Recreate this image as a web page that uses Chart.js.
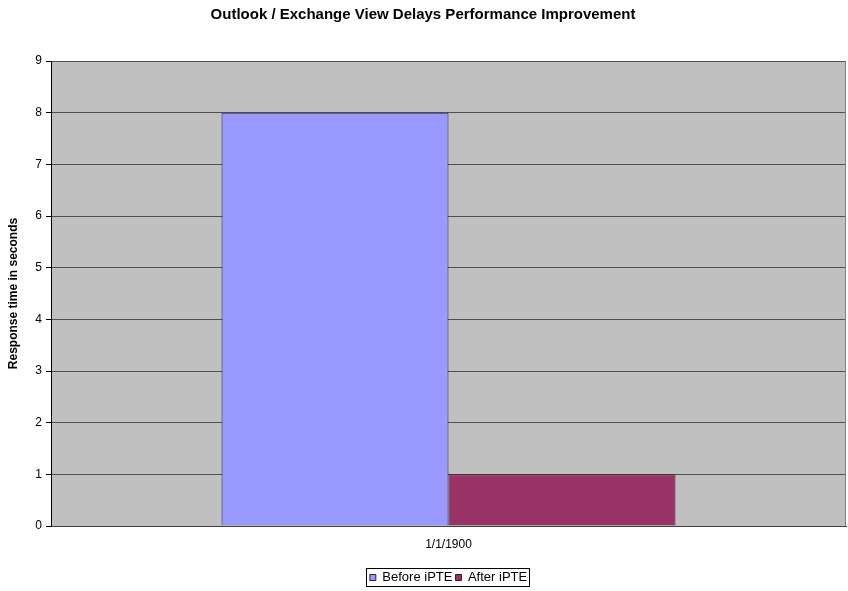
<!DOCTYPE html>
<html>
<head>
<meta charset="utf-8">
<script src="https://cdn.jsdelivr.net/npm/chart.js@4"></script>
<style>
  html, body { margin: 0; padding: 0; background: #fff; }
  #wrap { width: 848px; height: 591px; }
</style>
</head>
<body>
<div id="wrap"><canvas id="chart"></canvas></div>
<script>
  // data
  const categories = ['1/1/1900'];
  const beforeValues = [8];
  const afterValues = [1];
  const seriesNames = ['Before iPTE', 'After iPTE'];
  const yTicks = [0, 1, 2, 3, 4, 5, 6, 7, 8, 9];

  const FONT = 'Liberation Sans, Arial, sans-serif';

  // grey plot area plus a box round the legend, the way Excel drew it
  const excelLook = {
    id: 'excelLook',
    beforeDraw(chart) {
      const a = chart.chartArea;
      const ctx = chart.ctx;
      ctx.save();
      ctx.fillStyle = '#c0c0c0';
      ctx.fillRect(a.left, a.top, a.right - a.left, a.bottom - a.top);
      ctx.restore();
    },
    afterDraw(chart) {
      const a = chart.chartArea;
      const ctx = chart.ctx;
      ctx.save();
      ctx.strokeStyle = '#808080';
      ctx.lineWidth = 1;
      ctx.beginPath();
      ctx.moveTo(a.right - 0.5, a.top);
      ctx.lineTo(a.right - 0.5, a.bottom);
      ctx.stroke();

      const boxes = chart.legend.legendHitBoxes;
      if (boxes && boxes.length) {
        let l = Infinity, r = -Infinity, t = Infinity, b = -Infinity;
        boxes.forEach(h => {
          l = Math.min(l, h.left); r = Math.max(r, h.left + h.width);
          t = Math.min(t, h.top); b = Math.max(b, h.top + h.height);
        });
        ctx.strokeStyle = '#000';
        ctx.strokeRect(Math.round(l - 4) + 0.5, Math.round(t - 3) + 0.5,
                       Math.round(r - l + 6), Math.round(b - t + 5));
      }
      ctx.restore();
    }
  };

  const ctx = document.getElementById('chart').getContext('2d');
  new Chart(ctx, {
    type: 'bar',
    data: {
      labels: categories,
      datasets: [
        {
          label: seriesNames[0],
          data: beforeValues,
          backgroundColor: '#9999ff',
          borderColor: '#202050',
          borderWidth: 1,
          categoryPercentage: 0.571,
          barPercentage: 1.0
        },
        {
          label: seriesNames[1],
          data: afterValues,
          backgroundColor: '#993366',
          borderColor: '#3a1428',
          borderWidth: 1,
          categoryPercentage: 0.571,
          barPercentage: 1.0
        }
      ]
    },
    options: {
      responsive: true,
      maintainAspectRatio: false,
      animation: false,
      layout: { padding: { left: 0, right: 2, top: 0, bottom: 5 } },
      plugins: {
        title: {
          display: true,
          text: 'Outlook / Exchange View Delays Performance Improvement',
          color: '#000',
          font: { family: FONT, size: 15, weight: 'bold' },
          padding: { top: 6, bottom: 37 }
        },
        legend: {
          position: 'bottom',
          fullSize: false,
          maxHeight: 18,
          labels: {
            color: '#000',
            font: { family: FONT, size: 13 },
            boxWidth: 6,
            boxHeight: 6,
            padding: 3
          }
        },
        tooltip: { enabled: false }
      },
      scales: {
        x: {
          grid: { display: false, drawTicks: false },
          border: { display: true, color: '#404040' },
          ticks: {
            color: '#000',
            font: { family: FONT, size: 12 },
            padding: 11
          },
          afterFit(scale) { scale.height = 42; }
        },
        y: {
          min: 0,
          max: 9,
          afterBuildTicks(scale) { scale.ticks = yTicks.map(v => ({ value: v })); },
          grid: {
            color: '#505050',
            tickColor: '#000',
            tickLength: 5,
            drawOnChartArea: true
          },
          border: { display: true, color: '#000' },
          ticks: {
            color: '#000',
            font: { family: FONT, size: 12 },
            padding: 4
          },
          title: {
            display: true,
            text: 'Response time in seconds',
            color: '#000',
            font: { family: FONT, size: 12, weight: 'bold' },
            padding: { top: 6, bottom: 0 }
          },
          afterFit(scale) { scale.width = 51; }
        }
      }
    },
    plugins: [excelLook]
  });
</script>
</body>
</html>
